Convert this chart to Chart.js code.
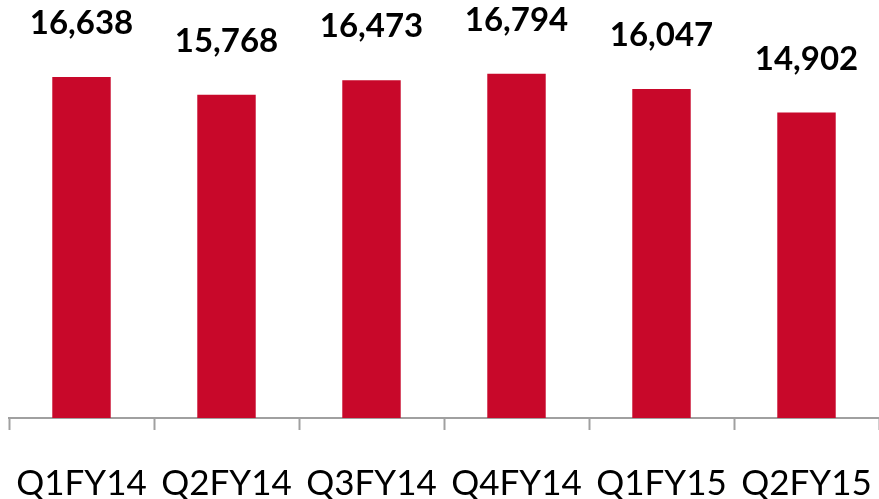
<!DOCTYPE html>
<html>
<head>
<meta charset="utf-8">
<script src="https://cdn.jsdelivr.net/npm/chart.js@4"></script>
<style>
  html, body { margin: 0; padding: 0; background: #ffffff; }
  #wrap { width: 879px; height: 499px; position: relative; }
</style>
</head>
<body>
<div id="wrap"><canvas id="chart"></canvas></div>
<script>
// Quarterly figures
const quarters = ['Q1FY14', 'Q2FY14', 'Q3FY14', 'Q4FY14', 'Q1FY15', 'Q2FY15'];
const values = [16638, 15768, 16473, 16794, 16047, 14902];

const BAR_RED = '#C8082A';
const AXIS_GREY = '#A0A0A0';
const FONT = 'Lato';

// Writes each bar's value above it, with thousands separators
const valueLabels = {
  id: 'valueLabels',
  afterDatasetsDraw(chart) {
    const ctx = chart.ctx;
    const meta = chart.getDatasetMeta(0);
    ctx.save();
    ctx.font = 'bold 33px ' + FONT;
    ctx.fillStyle = '#000000';
    ctx.textAlign = 'center';
    ctx.textBaseline = 'alphabetic';
    meta.data.forEach((bar, i) => {
      const txt = values[i].toLocaleString('en-US');
      ctx.fillText(txt, bar.x, bar.y - 43);
    });
    ctx.restore();
  }
};

new Chart(document.getElementById('chart'), {
  type: 'bar',
  data: {
    labels: quarters,
    datasets: [{
      data: values,
      backgroundColor: BAR_RED,
      borderWidth: 0,
      barPercentage: 0.403,
      categoryPercentage: 1.0
    }]
  },
  options: {
    responsive: true,
    maintainAspectRatio: false,
    animation: false,
    layout: { padding: { left: 9, right: 0, top: 8, bottom: 0 } },
    plugins: {
      legend: { display: false },
      tooltip: { enabled: false }
    },
    scales: {
      x: {
        grid: {
          display: true,
          drawOnChartArea: false,
          drawTicks: true,
          tickLength: 12,
          tickWidth: 2,
          color: AXIS_GREY,
          offset: true
        },
        border: { display: true, color: AXIS_GREY, width: 2 },
        ticks: {
          color: '#000000',
          font: { family: FONT, size: 35 },
          padding: 33,
          maxRotation: 0,
          autoSkip: false
        },
        afterFit(scale) {
          scale.height = 81;
          scale.paddingLeft = 0;
          scale.paddingRight = 0;
        }
      },
      y: {
        display: false,
        min: 0,
        max: 20000
      }
    }
  },
  plugins: [valueLabels]
});
</script>
</body>
</html>
